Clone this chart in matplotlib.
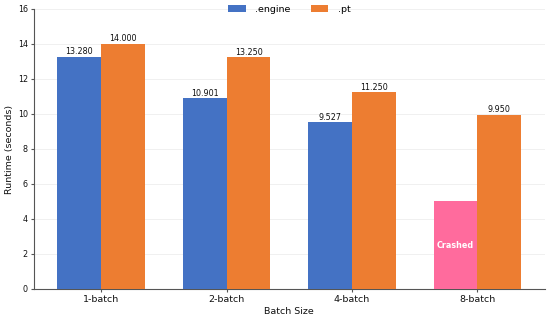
import matplotlib
matplotlib.use("Agg")
import matplotlib.pyplot as plt
import numpy as np

categories = ["1-batch", "2-batch", "4-batch", "8-batch"]
engine = [13.280, 10.901, 9.527, 5.0]
pt = [14.000, 13.250, 11.250, 9.950]
engine_crashed = [False, False, False, True]

fig, ax = plt.subplots(figsize=(5.5, 3.2), dpi=100)
x = np.arange(len(categories))
w = 0.35
blue = "#4472C4"
orange = "#ED7D31"
pink = "#FF6B9D"
ecolors = [pink if c else blue for c in engine_crashed]
b1 = ax.bar(x - w/2, engine, w, color=ecolors, label=".engine", zorder=3)
b2 = ax.bar(x + w/2, pt, w, color=orange, label=".pt", zorder=3)

for i, r in enumerate(b1):
    if engine_crashed[i]:
        ax.text(r.get_x() + r.get_width()/2, r.get_height()/2, "Crashed",
                ha="center", va="center", color="white", fontsize=5.8, fontweight="bold", zorder=4)
    else:
        ax.text(r.get_x() + r.get_width()/2, r.get_height() + 0.03, f"{engine[i]:.3f}",
                ha="center", va="bottom", fontsize=5.8, color="#111111", zorder=4)
for i, r in enumerate(b2):
    ax.text(r.get_x() + r.get_width()/2, r.get_height() + 0.03, f"{pt[i]:.3f}",
            ha="center", va="bottom", fontsize=5.8, color="#111111", zorder=4)

ax.set_ylim(0, 16)
ax.set_yticks(range(0, 17, 2))
ax.set_xticks(x)
ax.set_xticklabels(categories, fontsize=6.8, color="#111111")
ax.tick_params(axis="y", labelsize=5.8, length=2.5, pad=2, colors="#555555", labelcolor="#111111")
ax.tick_params(axis="x", length=2.5, pad=2, colors="#555555", labelcolor="#111111")
ax.set_xlabel("Batch Size", fontsize=6.8, labelpad=2, color="#111111")
ax.set_ylabel("Runtime (seconds)", fontsize=6.8, labelpad=3, color="#111111")
ax.grid(axis="y", color="#eeeeee", linewidth=0.6, zorder=0)
ax.spines["top"].set_visible(False)
ax.spines["right"].set_visible(False)
for s in ["left", "bottom"]:
    ax.spines[s].set_color("#555555")
    ax.spines[s].set_linewidth(0.8)
ax.legend(loc="upper center", bbox_to_anchor=(0.5, 1.045), ncol=2, frameon=False,
          fontsize=6.8, handlelength=1.9, handletextpad=1.0, columnspacing=2.1)
fig.subplots_adjust(left=0.062, right=0.99, top=0.972, bottom=0.097)
fig.savefig("out.png", dpi=100)
